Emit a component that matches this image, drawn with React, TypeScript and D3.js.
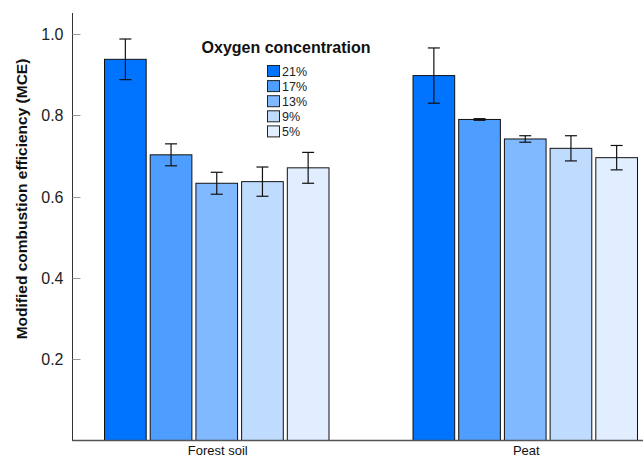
import { useEffect, useRef } from 'react'
import * as d3 from 'd3'

const groups = ['Forest soil', 'Peat']
const oxygen = ['21%', '17%', '13%', '9%', '5%']
const forestMce = [0.938, 0.703, 0.633, 0.637, 0.671]
const forestErr = [0.05, 0.027, 0.027, 0.036, 0.038]
const peatMce = [0.898, 0.79, 0.742, 0.719, 0.696]
const peatErr = [0.068, 0.002, 0.008, 0.031, 0.03]
const yTicks = [0.2, 0.4, 0.6, 0.8, 1.0]
const oxyColors = ['#0073ff', '#4d9eff', '#80b9ff', '#bfdcff', '#e1eeff']

export default function App() {
  const svgRef = useRef<SVGSVGElement | null>(null)

  useEffect(() => {
    if (!svgRef.current) return
    const svg = d3.select(svgRef.current)
    svg.selectAll('*').remove()

    const W = 643, H = 458
    const font = '"Liberation Sans", Arial, sans-serif'
    svg.attr('width', W).attr('height', H).style('font-family', font)

    const axisX = 72.5
    const y = d3.scaleLinear().domain([0, 1.052]).range([440.5, 13])
    const x0 = d3.scaleBand().domain(groups).range([62, 679])
    const x1 = d3.scaleBand().domain(oxygen).range([-114.25, 114.25])
      .paddingInner(0.088).paddingOuter(0.044)

    const series = [
      { name: groups[0], vals: forestMce, errs: forestErr },
      { name: groups[1], vals: peatMce, errs: peatErr }
    ]

    // Bars + error bars
    series.forEach(s => {
      const cx = (x0(s.name) ?? 0) + x0.bandwidth() / 2
      const g = svg.append('g').attr('transform', `translate(${cx},0)`)
      oxygen.forEach((o, i) => {
        const bx = x1(o) ?? 0
        const bw = x1.bandwidth()
        g.append('rect')
          .attr('x', bx + 0.5).attr('y', y(s.vals[i]))
          .attr('width', bw).attr('height', y(0) - y(s.vals[i]))
          .attr('fill', oxyColors[i]).attr('stroke', '#111').attr('stroke-width', 1)
        const mx = bx + bw / 2 + 0.5
        const top = y(s.vals[i] + s.errs[i])
        const bot = y(s.vals[i] - s.errs[i])
        g.append('line').attr('x1', mx).attr('x2', mx).attr('y1', top).attr('y2', bot)
          .attr('stroke', '#111').attr('stroke-width', 1.2)
        ;[top, bot].forEach(yy => {
          g.append('line').attr('x1', mx - 6).attr('x2', mx + 6).attr('y1', yy).attr('y2', yy)
            .attr('stroke', '#111').attr('stroke-width', 1.2)
        })
      })
      // Group label
      svg.append('text').attr('x', cx + 1.5).attr('y', 455)
        .attr('text-anchor', 'middle').attr('font-size', 13).attr('fill', '#111')
        .text(s.name)
    })

    // Axes
    svg.append('line').attr('x1', axisX).attr('x2', axisX).attr('y1', 13).attr('y2', 441)
      .attr('stroke', '#333').attr('stroke-width', 1)
    svg.append('line').attr('x1', axisX).attr('x2', W).attr('y1', 440.5).attr('y2', 440.5)
      .attr('stroke', '#555').attr('stroke-width', 1.5)

    yTicks.forEach(t => {
      svg.append('line').attr('x1', axisX).attr('x2', axisX + 8)
        .attr('y1', Math.round(y(t)) + 0.5).attr('y2', Math.round(y(t)) + 0.5)
        .attr('stroke', '#999').attr('stroke-width', 1)
      svg.append('text').attr('x', 63.5).attr('y', y(t) + 6)
        .attr('text-anchor', 'end').attr('font-size', 16).attr('fill', '#222')
        .text(d3.format('.1f')(t))
    })

    svg.append('text')
      .attr('transform', `translate(26.5,199) rotate(-90)`)
      .attr('text-anchor', 'middle').attr('font-size', 15.5).attr('font-weight', 'bold')
      .attr('fill', '#111')
      .text('Modified combustion efficiency (MCE)')

    // Legend
    svg.append('text').attr('x', 286).attr('y', 52.5)
      .attr('text-anchor', 'middle').attr('font-size', 16).attr('font-weight', 'bold')
      .attr('fill', '#111')
      .text('Oxygen concentration')
    oxygen.forEach((o, i) => {
      const ly = 65.5 + i * 15.1
      svg.append('rect').attr('x', 267.5).attr('y', ly).attr('width', 12).attr('height', 11)
        .attr('fill', oxyColors[i]).attr('stroke', '#222').attr('stroke-width', 1)
      svg.append('text').attr('x', 282).attr('y', ly + 10.5)
        .attr('font-size', 12.5).attr('fill', '#222')
        .text(o)
    })
  }, [])

  return (
    <div style={{ position: 'absolute', left: 0, top: 0 }}>
      <svg ref={svgRef} style={{ display: 'block' }} />
    </div>
  )
}
